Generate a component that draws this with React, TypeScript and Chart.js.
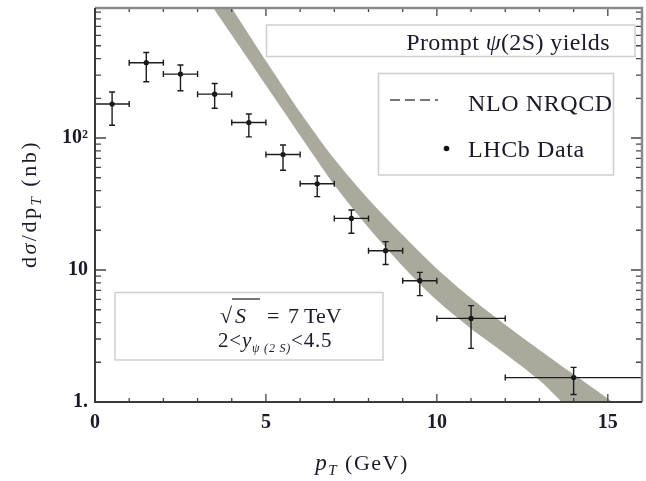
import React, { useEffect, useRef } from "react";
import { Chart, registerables } from "chart.js";

Chart.register(...registerables);

// ---- Data ----
const ptX = [0.5, 1.5, 2.5, 3.5, 4.5, 5.5, 6.5, 7.5, 8.5, 9.5, 11, 14];
const ptY = [181, 372, 305, 215, 131, 75, 45, 24.6, 14.0, 8.3, 4.3, 1.53];
const xLo = [0, 1, 2, 3, 4, 5, 6, 7, 8, 9, 10, 12];
const xHi = [1, 2, 3, 4, 5, 6, 7, 8, 9, 10, 12, 16];
const yLo = [125, 267, 228, 168, 102, 57, 36, 19.0, 11.0, 6.4, 2.55, 1.14];
const yHi = [223, 445, 357, 259, 152, 88.5, 51.5, 28.5, 16.4, 9.6, 5.37, 1.83];

// NLO NRQCD band edges (upper/right edge and lower/left edge)
const bandUpperX = [3.45, 4.0, 5.0, 6.0, 7.0, 8.0, 9.0, 10.0, 11.0, 12.0, 13.0, 14.0, 15.0, 15.6, 16.5];
const bandUpperY = [1600, 966, 384.6, 156.7, 69.2, 34.3, 18.4, 10.23, 6.10, 3.85, 2.48, 1.62, 1.059, 0.822, 0.55];
const bandLowerX = [2.9, 3.46, 4.0, 5.0, 6.0, 7.0, 8.0, 9.0, 10.0, 11.0, 12.0, 13.0, 13.5, 13.9, 14.6];
const bandLowerY = [1600, 966, 602.6, 251.2, 104.7, 44.2, 20.9, 10.7, 5.89, 3.59, 2.32, 1.46, 1.096, 0.851, 0.6];

const xTicks = [0, 5, 10, 15];
const xTickLabels = ["0", "5", "10", "15"];
const xMinorTicks = [1, 2, 3, 4, 6, 7, 8, 9, 11, 12, 13, 14, 16];
const yTicks = [1, 10, 100];
const yTickLabels = ["1.", "10", "10\u00B2"];
const yMinorTicks = [2, 3, 4, 5, 6, 7, 8, 9, 20, 30, 40, 50, 60, 70, 80, 90, 200, 300, 400, 500, 600, 700, 800, 900];

const xMin = 0;
const xMax = 16;
const yMin = 1;
const yMax = 966;

const serif = '"Liberation Serif", "Times New Roman", serif';
const textColor = "#1a1a28";
const bandColor = "#a9aa9c";

type Piece = { t: string; f: string; dy?: number };

function drawPieces(ctx: CanvasRenderingContext2D, pieces: Piece[], x: number, y: number, align: string, spacing: number) {
  (ctx as any).letterSpacing = spacing + "px";
  const widths = pieces.map((p) => {
    ctx.font = p.f;
    return ctx.measureText(p.t).width;
  });
  const total = widths.reduce((a, b) => a + b, 0);
  let cx = align === "right" ? x - total : align === "center" ? x - total / 2 : x;
  ctx.textAlign = "left";
  ctx.textBaseline = "alphabetic";
  pieces.forEach((p, i) => {
    ctx.font = p.f;
    ctx.fillText(p.t, cx, y + (p.dy || 0));
    cx += widths[i];
  });
  (ctx as any).letterSpacing = "0px";
}

const errorBarPlugin = {
  id: "errorBars",
  afterDatasetsDraw(chart: any) {
    const ctx = chart.ctx as CanvasRenderingContext2D;
    const xs = chart.scales.x;
    const ys = chart.scales.y;
    const a = chart.chartArea;
    ctx.save();
    ctx.beginPath();
    ctx.rect(a.left, a.top, a.right - a.left, a.bottom - a.top);
    ctx.clip();
    ctx.strokeStyle = "#1c1c1c";
    ctx.lineWidth = 1.4;
    const cap = 3;
    for (let i = 0; i < ptX.length; i++) {
      const px = xs.getPixelForValue(ptX[i]);
      const py = ys.getPixelForValue(ptY[i]);
      const x1 = xs.getPixelForValue(xLo[i]);
      const x2 = xs.getPixelForValue(xHi[i]);
      const y1 = ys.getPixelForValue(yLo[i]);
      const y2 = ys.getPixelForValue(yHi[i]);
      ctx.beginPath();
      ctx.moveTo(x1, py);
      ctx.lineTo(x2, py);
      ctx.moveTo(x1, py - cap);
      ctx.lineTo(x1, py + cap);
      ctx.moveTo(x2, py - cap);
      ctx.lineTo(x2, py + cap);
      ctx.moveTo(px, y1);
      ctx.lineTo(px, y2);
      ctx.moveTo(px - cap, y1);
      ctx.lineTo(px + cap, y1);
      ctx.moveTo(px - cap, y2);
      ctx.lineTo(px + cap, y2);
      ctx.stroke();
    }
    ctx.restore();
  },
};

const framePlugin = {
  id: "frameText",
  afterDraw(chart: any) {
    const ctx = chart.ctx as CanvasRenderingContext2D;
    const xs = chart.scales.x;
    const ys = chart.scales.y;
    const { left, right, top, bottom } = chart.chartArea;
    ctx.save();

    // ticks
    ctx.strokeStyle = "#444";
    ctx.lineWidth = 1.3;
    ctx.beginPath();
    xTicks.forEach((v) => {
      const px = xs.getPixelForValue(v);
      ctx.moveTo(px, bottom);
      ctx.lineTo(px, bottom - 8);
      ctx.moveTo(px, top);
      ctx.lineTo(px, top + 8);
    });
    xMinorTicks.forEach((v) => {
      const px = xs.getPixelForValue(v);
      ctx.moveTo(px, bottom);
      ctx.lineTo(px, bottom - 4);
      ctx.moveTo(px, top);
      ctx.lineTo(px, top + 4);
    });
    yTicks.forEach((v) => {
      const py = ys.getPixelForValue(v);
      ctx.moveTo(left, py);
      ctx.lineTo(left + 11, py);
      ctx.moveTo(right, py);
      ctx.lineTo(right - 11, py);
    });
    yMinorTicks.forEach((v) => {
      const py = ys.getPixelForValue(v);
      if (py < top) return;
      ctx.moveTo(left, py);
      ctx.lineTo(left + 6, py);
      ctx.moveTo(right, py);
      ctx.lineTo(right - 6, py);
    });
    ctx.stroke();

    // frame
    ctx.lineWidth = 2.5;
    ctx.strokeStyle = "#8a8a8a";
    ctx.beginPath();
    ctx.moveTo(left, top);
    ctx.lineTo(right, top);
    ctx.lineTo(right, bottom);
    ctx.stroke();
    ctx.lineWidth = 2;
    ctx.strokeStyle = "#3a3a3a";
    ctx.beginPath();
    ctx.moveTo(left, top);
    ctx.lineTo(left, bottom);
    ctx.lineTo(right, bottom);
    ctx.stroke();

    // boxes
    ctx.strokeStyle = "#cfcfcf";
    ctx.lineWidth = 1.5;
    ctx.strokeRect(266.5, 25, 368.5, 31.5);
    ctx.strokeRect(378.5, 73.5, 235, 101.5);
    ctx.strokeRect(115, 292.5, 268, 67.5);

    ctx.fillStyle = textColor;
    // title box
    drawPieces(
      ctx,
      [
        { t: "Prompt ", f: `24px ${serif}` },
        { t: "\u03C8", f: `italic 24px ${serif}` },
        { t: "(2S) yields", f: `24px ${serif}` },
      ],
      610,
      50,
      "right",
      0.4
    );

    // legend
    ctx.save();
    ctx.strokeStyle = "#777";
    ctx.lineWidth = 2;
    ctx.setLineDash([10, 5]);
    ctx.beginPath();
    ctx.moveTo(390, 100);
    ctx.lineTo(438, 100);
    ctx.stroke();
    ctx.restore();
    drawPieces(ctx, [{ t: "NLO NRQCD", f: `24px ${serif}` }], 468, 111, "left", 0.6);
    ctx.fillStyle = "#111";
    ctx.beginPath();
    ctx.arc(446.5, 148.5, 2.8, 0, Math.PI * 2);
    ctx.fill();
    ctx.fillStyle = textColor;
    drawPieces(ctx, [{ t: "LHCb Data", f: `24px ${serif}` }], 468, 157, "left", 0.6);

    // energy box
    ctx.font = `22px ${serif}`;
    ctx.textAlign = "left";
    ctx.textBaseline = "alphabetic";
    ctx.fillText("\u221A", 220, 323);
    ctx.font = `italic 22px ${serif}`;
    ctx.fillText("S", 235, 323);
    ctx.strokeStyle = textColor;
    ctx.lineWidth = 1.2;
    ctx.beginPath();
    ctx.moveTo(232, 299);
    ctx.lineTo(260, 299);
    ctx.stroke();
    ctx.font = `22px ${serif}`;
    ctx.fillText("=", 267, 323);
    ctx.fillText("7", 288, 323);
    ctx.fillText("TeV", 304, 323);
    drawPieces(
      ctx,
      [
        { t: "2<", f: `21px ${serif}` },
        { t: "y", f: `italic 21px ${serif}` },
        { t: "\u03C8 (2 S)", f: `italic 12px ${serif}`, dy: 5 },
        { t: "<4.5", f: `21px ${serif}` },
      ],
      218,
      347,
      "left",
      0.8
    );

    // axis titles
    drawPieces(
      ctx,
      [
        { t: "p", f: `italic 23px ${serif}` },
        { t: "T", f: `italic 15px ${serif}`, dy: 5 },
        { t: " (GeV)", f: `22px ${serif}` },
      ],
      362,
      470,
      "center",
      1.5
    );
    ctx.save();
    ctx.translate(36, 204);
    ctx.rotate(-Math.PI / 2);
    drawPieces(
      ctx,
      [
        { t: "d", f: `22px ${serif}` },
        { t: "\u03C3", f: `italic 22px ${serif}` },
        { t: "/dp", f: `22px ${serif}` },
        { t: "T", f: `italic 15px ${serif}`, dy: 5 },
        { t: " (nb)", f: `22px ${serif}` },
      ],
      0,
      0,
      "center",
      2.5
    );
    ctx.restore();

    ctx.restore();
  },
};

export default function App() {
  const ref = useRef<HTMLCanvasElement | null>(null);
  useEffect(() => {
    if (!ref.current) return;
    const bandData = [
      ...bandUpperX.map((x, i) => ({ x, y: bandUpperY[i] })),
      ...bandLowerX.map((x, i) => ({ x, y: bandLowerY[i] })).reverse(),
    ];
    const chart = new Chart(ref.current, {
      type: "scatter",
      data: {
        datasets: [
          {
            label: "LHCb Data",
            data: ptX.map((x, i) => ({ x, y: ptY[i] })),
            backgroundColor: "#111",
            borderWidth: 0,
            pointRadius: 2.6,
            order: 1,
          },
          {
            label: "NLO NRQCD",
            data: bandData,
            showLine: true,
            fill: "shape",
            backgroundColor: bandColor,
            borderColor: "rgba(0,0,0,0)",
            borderWidth: 1,
            pointRadius: 0,
            tension: 0.25,
            capBezierPoints: false,
            order: 2,
          } as any,
        ],
      },
      options: {
        responsive: false,
        animation: false,
        layout: { padding: { top: 8, right: 2, left: 0, bottom: 0 } },
        plugins: { legend: { display: false }, tooltip: { enabled: false }, title: { display: false } },
        scales: {
          x: {
            type: "linear",
            min: xMin,
            max: xMax,
            grid: { display: false, drawTicks: false },
            border: { display: false },
            afterBuildTicks: (s: any) => {
              s.ticks = xTicks.map((v) => ({ value: v }));
            },
            afterFit: (s: any) => {
              s.height = 79;
              s.paddingLeft = 0;
              s.paddingRight = 0;
            },
            ticks: {
              autoSkip: false,
              maxRotation: 0,
              padding: 9,
              color: textColor,
              font: { family: serif, size: 20, weight: "bold" },
              callback: (v: any) => {
                const i = xTicks.indexOf(Number(v));
                return i >= 0 ? xTickLabels[i] : "";
              },
            },
          },
          y: {
            type: "logarithmic",
            min: yMin,
            max: yMax,
            grid: { display: false, drawTicks: false },
            border: { display: false },
            afterBuildTicks: (s: any) => {
              s.ticks = yTicks.map((v) => ({ value: v, major: true }));
            },
            afterFit: (s: any) => {
              s.width = 95;
              s.paddingTop = 0;
              s.paddingBottom = 0;
            },
            ticks: {
              autoSkip: false,
              padding: 7,
              color: textColor,
              font: { family: serif, size: 20, weight: "bold" },
              callback: (v: any) => {
                const i = yTicks.indexOf(Number(v));
                return i >= 0 ? yTickLabels[i] : "";
              },
            },
          },
        },
      },
      plugins: [errorBarPlugin, framePlugin],
    });
    return () => chart.destroy();
  }, []);
  return (
    <div style={{ position: "absolute", left: 0, top: 0, width: 646, height: 481, background: "#fff" }}>
      <canvas ref={ref} width={646} height={481} style={{ display: "block" }} />
    </div>
  );
}
